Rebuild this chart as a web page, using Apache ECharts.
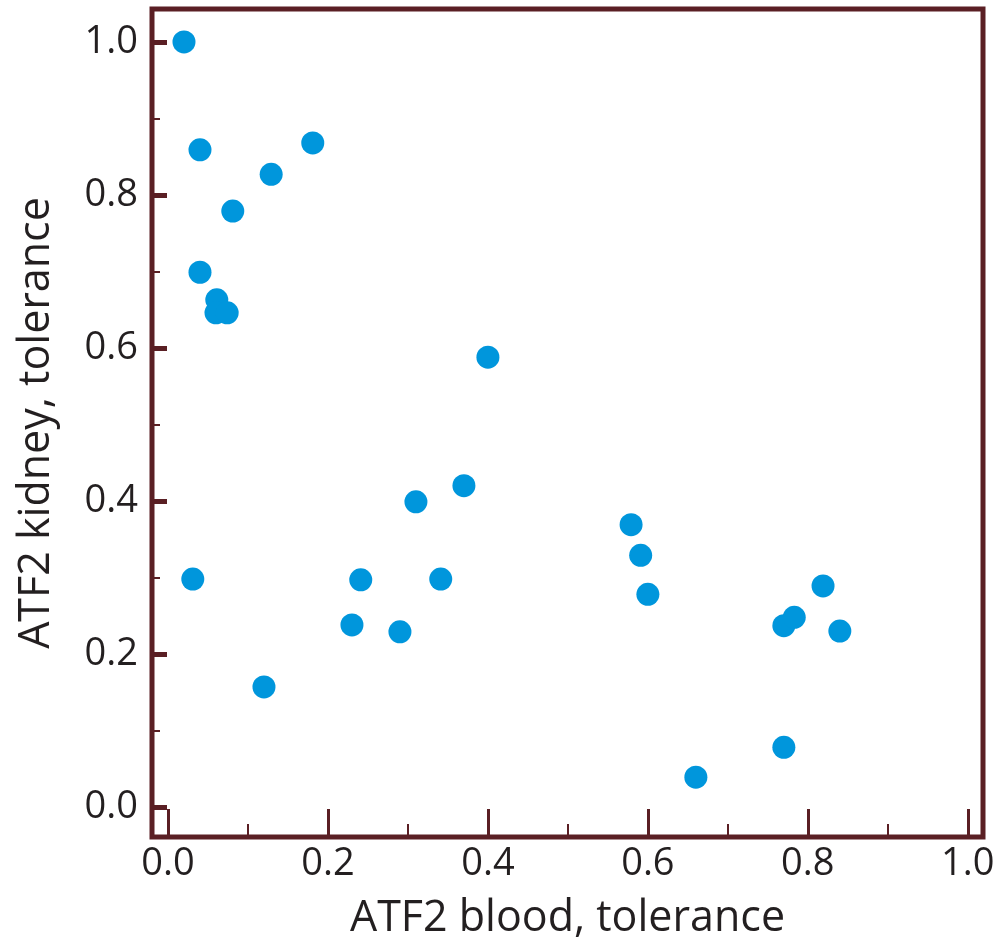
<!DOCTYPE html>
<html>
<head>
<meta charset="UTF-8">
<title>ATF2 tolerance</title>
<script src="https://cdn.jsdelivr.net/npm/echarts@6/dist/echarts.min.js"></script>
<style>
  html, body { margin: 0; padding: 0; background: #fff; }
  #main { width: 1004px; height: 948px; }
</style>
</head>
<body>
<div id="main"></div>
<script>
// tolerance values
var bloodTol  = [0.02, 0.04, 0.181, 0.129, 0.081, 0.04, 0.061, 0.06, 0.074, 0.40, 0.031, 0.31, 0.37, 0.241, 0.23, 0.29, 0.341, 0.12, 0.579, 0.591, 0.60, 0.66, 0.77, 0.783, 0.819, 0.84, 0.77];
var kidneyTol = [1.0, 0.859, 0.868, 0.827, 0.779, 0.699, 0.663, 0.646, 0.646, 0.588, 0.298, 0.399, 0.42, 0.297, 0.238, 0.229, 0.298, 0.157, 0.369, 0.329, 0.278, 0.039, 0.237, 0.248, 0.289, 0.23, 0.078];

var majorTicks = [0, 0.2, 0.4, 0.6, 0.8, 1.0];
var minorTicks = [0.1, 0.3, 0.5, 0.7, 0.9];

var frameColor = '#5a1f24';
var textColor = '#231f20';

var points = bloodTol.map(function (x, i) { return [x, kidneyTol[i]]; });

var xMin = -0.02, xMax = 1.019;
var yMin = -0.0392, yMax = 1.0431;

var labelStyle = {
    color: textColor,
    fontFamily: 'Open Sans',
    fontSize: 38,
    formatter: function (v) { return v.toFixed(1); }
};
var nameStyle = { color: textColor, fontFamily: 'Open Sans', fontSize: 43 };

var myChart = echarts.init(document.getElementById('main'));

myChart.setOption({
    backgroundColor: '#fff',
    animation: false,
    grid: {
        left: 152, right: 21, top: 9, bottom: 111,
        show: true,
        borderColor: frameColor,
        borderWidth: 5,
        backgroundColor: 'transparent'
    },
    xAxis: [{
        type: 'value', min: xMin, max: xMax,
        name: 'ATF2 blood, tolerance',
        nameLocation: 'middle', nameGap: 60,
        nameTextStyle: nameStyle,
        axisLine: { show: false, onZero: false },
        splitLine: { show: false },
        axisTick: { inside: true, length: 28, customValues: majorTicks, lineStyle: { color: frameColor, width: 3 } },
        axisLabel: Object.assign({ margin: 8, customValues: majorTicks }, labelStyle)
    }, {
        type: 'value', min: xMin, max: xMax, position: 'bottom',
        axisLine: { show: false, onZero: false },
        splitLine: { show: false },
        axisLabel: { show: false },
        axisTick: { inside: true, length: 13, customValues: minorTicks, lineStyle: { color: frameColor, width: 2 } }
    }],
    yAxis: [{
        type: 'value', min: yMin, max: yMax,
        name: 'ATF2 kidney, tolerance',
        nameLocation: 'middle', nameGap: 94,
        nameTextStyle: nameStyle,
        axisLine: { show: false, onZero: false },
        splitLine: { show: false },
        axisTick: { inside: true, length: 15, customValues: majorTicks, lineStyle: { color: frameColor, width: 5 } },
        axisLabel: Object.assign({ margin: 14, customValues: majorTicks }, labelStyle)
    }, {
        type: 'value', min: yMin, max: yMax, position: 'left',
        axisLine: { show: false, onZero: false },
        splitLine: { show: false },
        axisLabel: { show: false },
        axisTick: { inside: true, length: 8, customValues: minorTicks, lineStyle: { color: frameColor, width: 2 } }
    }],
    series: [{
        type: 'scatter',
        xAxisIndex: 0, yAxisIndex: 0,
        symbolSize: 23,
        itemStyle: { color: '#0096dc', opacity: 1 },
        data: points
    }]
});
</script>
</body>
</html>
